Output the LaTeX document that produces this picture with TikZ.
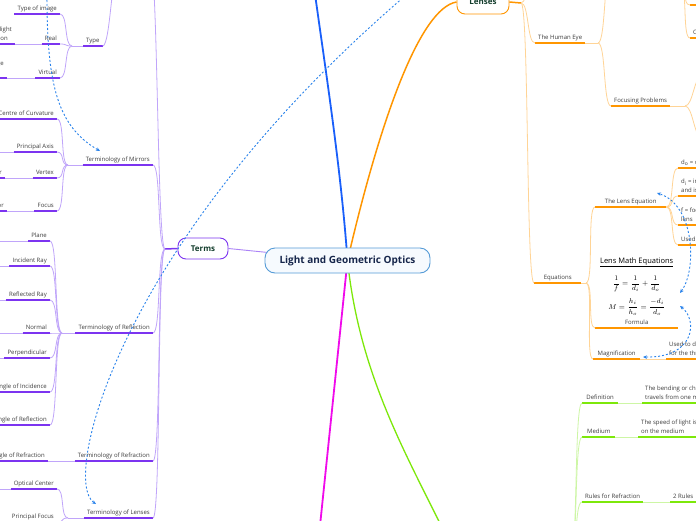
\documentclass[tikz,border=0pt]{standalone}
\usepackage{amsmath}
\usepackage[no-math]{fontspec}
\setmainfont{Open Sans}
\usepackage{xcolor}
\usetikzlibrary{positioning,arrows.meta,backgrounds}
\definecolor{pDark}{RGB}{124,52,240}
\definecolor{pLight}{RGB}{192,165,250}
\definecolor{oDark}{RGB}{255,150,0}
\definecolor{oLight}{RGB}{255,212,150}
\definecolor{gDark}{RGB}{125,232,10}
\definecolor{gLight}{RGB}{205,246,165}
\definecolor{bMain}{RGB}{25,95,250}
\definecolor{mMain}{RGB}{240,10,235}
\definecolor{rLine}{RGB}{40,130,235}
\definecolor{cLine}{RGB}{85,155,215}
\definecolor{cFill}{RGB}{246,250,254}
\definecolor{cText}{RGB}{22,38,75}
\definecolor{hText}{RGB}{20,62,45}
\definecolor{tText}{RGB}{60,60,60}
\tikzset{
  lbl/.style={font=\fontsize{6}{8.5}\selectfont, text=tText, align=left,
              inner xsep=3pt, inner ysep=2pt, text depth=1.5pt},
  pline/.style={draw=pDark, line width=1.5pt},
  oline/.style={draw=oDark, line width=1.5pt},
  gline/.style={draw=gDark, line width=1.5pt},
  pnode/.style={lbl, append after command={(\tikzlastnode.south west) edge[pline] (\tikzlastnode.south east)}},
  onode/.style={lbl, append after command={(\tikzlastnode.south west) edge[oline] (\tikzlastnode.south east)}},
  gnode/.style={lbl, append after command={(\tikzlastnode.south west) edge[gline] (\tikzlastnode.south east)}},
  plink/.style={draw=pLight, line width=0.8pt},
  olink/.style={draw=oLight, line width=0.8pt},
  glink/.style={draw=gLight, line width=0.8pt},
  sbend/.style={out=0, in=180, distance=8pt},
  rel/.style={draw=rLine, line width=0.9pt, dash pattern=on 2pt off 2pt,
              -{Stealth[length=4pt,width=3.5pt]}},
  relboth/.style={rel, {Stealth[length=4pt,width=3.5pt]}-{Stealth[length=4pt,width=3.5pt]}},
  hub/.style={rectangle, rounded corners=8pt, fill=white, line width=0.9pt,
              font=\fontsize{8}{10}\selectfont\bfseries, text=hText, minimum height=21pt},
  rootbox/.style={rectangle, rounded corners=10pt, draw=cLine, fill=cFill, line width=0.9pt,
                  font=\fontsize{10}{12}\selectfont\bfseries, text=cText,
                  minimum width=165pt, minimum height=25pt},
  eqbox/.style={align=center, inner sep=1pt, font=\fontsize{7.5}{9}\selectfont, text=black},
}

\begin{document}
\begin{tikzpicture}[x=1pt, y=-1pt]
  \useasboundingbox (0,0) rectangle (696,520);

  % --- central topic and hubs ---
  \node[rootbox] (optics) at (347.5,260.5) {Light and Geometric Optics};
  \node[hub, draw=pDark, minimum width=50pt] (terms) at (203,248.5) {Terms};
  \node[hub, draw=oDark, minimum width=52pt, minimum height=24pt] (lenses) at (483,2) {Lenses};
  \coordinate (blueEnd) at (313,-20);
  \coordinate (magEnd) at (318,545);
  \coordinate (refrN) at (452,548);

  \begin{scope}[on background layer]
    \fill[white] (0,0) rectangle (696,520);
    \draw[bMain, line width=1.8pt] (optics.center) .. controls (341,170) and (327,80) .. (blueEnd);
    \draw[oDark, line width=1.5pt] (optics.center) .. controls (380,120) and (420,8) .. (lenses.west);
    \draw[mMain, line width=1.8pt] (optics.center) -- (magEnd);
    \draw[gDark, line width=1.3pt] (optics.center) .. controls (360,380) and (410,460) .. (refrN);
    \draw[pLight!70!pDark, line width=0.9pt] (optics.center) -- (terms.east);
  \end{scope}

  % --- Terms branch ---
  \coordinate (termsJ) at (165,249);
  \coordinate (termsTop) at (150,-40);
  \node[pnode, anchor=south east] (mirrors) at (153,165) {Terminology of Mirrors};
  \node[pnode, anchor=south east] (reflect) at (153,333) {Terminology of Reflection};
  \node[pnode, anchor=south east] (refract) at (153,461) {Terminology of Refraction};
  \node[pnode, anchor=south east] (lensterm) at (153,518) {Terminology of Lenses};
  \draw[pline] (termsJ) -- (terms.west);
  \draw[plink] (termsTop) to[sbend] (termsJ);
  \foreach \n in {mirrors,reflect,refract,lensterm}
    \draw[plink] (\n.south east) to[sbend] (termsJ);

  % type of image
  \coordinate (typeUp) at (120,-40);
  \coordinate (typeJ) at (72,46);
  \node[pnode, anchor=south west] (type) at (83,46) {Type};
  \node[pnode, anchor=south east] (imgtype) at (60,14) {Type of image};
  \node[pnode, anchor=south east] (real) at (60,44) {Real};
  \node[pnode, anchor=south east] (virtual) at (60,78) {Virtual};
  \node[pnode, anchor=south east] (realdef) at (15,44) {Formed by converging light\\rays at the image location};
  \node[pnode, anchor=south east] (virtdef) at (7,78) {Rays only appear to meet at the image\\behind the mirror};
  \foreach \n in {imgtype,real,virtual}
    \draw[plink] (\n.south east) to[sbend] (typeJ);
  \draw[plink] (typeJ) -- (type.south west);
  \draw[plink] (type.south east) to[sbend] (typeUp);
  \draw[plink] (realdef.south east) -- (real.south west);
  \draw[plink] (virtdef.south east) -- (virtual.south west);

  % mirrors
  \coordinate (mirrorsJ) at (68,165);
  \node[pnode, anchor=south east] (curv) at (57,119) {Centre of Curvature};
  \node[pnode, anchor=south east] (paxis) at (57,152) {Principal Axis};
  \node[pnode, anchor=south east] (vertex) at (57,178) {Vertex};
  \node[pnode, anchor=south east] (focus) at (57,211) {Focus};
  \node[pnode, anchor=south east] (vertexdef) at (5,178) {The centre point of the mirror};
  \node[pnode, anchor=south east] (focusdef) at (7,211) {Where reflected rays meet for a mirror};
  \foreach \n in {curv,paxis,vertex,focus}
    \draw[plink] (\n.south east) to[sbend] (mirrorsJ);
  \draw[plink] (mirrorsJ) -- (mirrors.south west);
  \draw[plink] (vertexdef.south east) -- (vertex.south west);
  \draw[plink] (focusdef.south east) -- (focus.south west);

  % reflection
  \coordinate (reflJ) at (62,333);
  \node[pnode, anchor=south east] (plane) at (50,241) {Plane};
  \node[pnode, anchor=south east] (incident) at (50,266) {Incident Ray};
  \node[pnode, anchor=south east] (reflected) at (50,300) {Reflected Ray};
  \node[pnode, anchor=south east] (normal) at (50,333) {Normal};
  \node[pnode, anchor=south east] (perp) at (50,358) {Perpendicular};
  \node[pnode, anchor=south east] (anginc) at (50,392) {Angle of Incidence};
  \node[pnode, anchor=south east] (angrefl) at (50,425) {Angle of Reflection};
  \foreach \n in {plane,incident,reflected,normal,perp,anginc,angrefl}
    \draw[plink] (\n.south east) to[sbend] (reflJ);
  \draw[plink] (reflJ) -- (reflect.south west);

  % refraction and lenses
  \node[pnode, anchor=south east] (angrefr) at (48,461) {Angle of Refraction};
  \draw[plink] (angrefr.south east) -- (refract.south west);
  \coordinate (lenstermJ) at (68,518);
  \node[pnode, anchor=south east] (optcentre) at (57,489) {Optical Center};
  \node[pnode, anchor=south east] (pfocus) at (57,522) {Principal Focus};
  \foreach \n in {optcentre,pfocus}
    \draw[plink] (\n.south east) to[sbend] (lenstermJ);
  \draw[plink] (lenstermJ) -- (lensterm.south west);

  % definitions running off the left edge
  \foreach \n in {paxis,plane,incident,reflected,normal,perp,optcentre} {
    \coordinate (\n-def) at ([xshift=-40pt]\n.south west);
    \draw[plink] (\n-def) -- (\n.south west);
  }

  % --- Lenses branch ---
  \coordinate (lensJ) at (521,3);
  \coordinate (lensTop) at (535,-40);
  \draw[oline] (lenses.east) -- (lensJ);
  \node[onode, anchor=south west] (eye) at (535,43) {The Human Eye};
  \node[onode, anchor=south west, minimum width=47pt] (equations) at (534,283) {Equations};
  \draw[olink] (lensJ) to[sbend] (lensTop);
  \foreach \n in {eye,equations}
    \draw[olink] (lensJ) to[sbend] (\n.south west);

  % human eye
  \coordinate (eyeJ) at (598,43);
  \coordinate (eyeTop) at (612,-40);
  \draw[olink] (eye.south east) -- (eyeJ);
  \node[onode, anchor=south west] (focprob) at (611,106) {Focusing Problems};
  \draw[olink] (eyeJ) to[sbend] (eyeTop);
  \draw[olink] (eyeJ) to[sbend] (focprob.south west);
  \coordinate (focJ) at (685,106);
  \coordinate (focA) at (702,76);
  \coordinate (focB) at (702,138);
  \draw[olink] (focprob.south east) -- (focJ);
  \draw[olink] (focJ) to[sbend] (focA);
  \draw[olink] (focJ) to[sbend] (focB);
  \coordinate (partsJ) at (680,-14);
  \node[onode, anchor=south west, minimum width=20pt] (partA) at (690,5) {};
  \node[onode, anchor=south west] (partB) at (690,38) {Optic Nerve};
  \draw[olink] (partsJ) to[sbend] (partA.south west);
  \draw[olink] (partsJ) to[sbend] (partB.south west);

  % equations
  \coordinate (equaJ) at (586,283);
  \draw[olink] (equations.south east) -- (equaJ);
  \node[onode, anchor=south west, minimum width=71pt] (lenseq) at (595,207) {The Lens Equation};
  \node[onode, anchor=south west, minimum width=83pt] (formula) at (595,328) {Formula};
  \node[onode, anchor=south west, minimum width=47pt] (magnif) at (593,359) {Magnification};
  \node[eqbox, above=1pt of formula] (lensmath) {%
    \underline{Lens Math Equations}\\[8pt]
    $\displaystyle\frac{1}{f}=\frac{1}{d_i}+\frac{1}{d_o}$\\[6pt]
    $\displaystyle M=\frac{h_i}{h_o}=\frac{-d_i}{d_o}$};
  \node[onode, anchor=south west, minimum width=40pt] (magnuse) at (666,359) {Used to determine the image size\\for the three cases};
  \foreach \n in {lenseq,formula,magnif}
    \draw[olink] (equaJ) to[sbend] (\n.south west);
  \draw[olink] (magnif.south east) -- (magnuse.south west);

  % lens equation terms
  \node[onode, anchor=south west] (ldo) at (678,168) {d\textsubscript{o} = object distance};
  \node[onode, anchor=south west] (ldi) at (678,196) {d\textsubscript{i} = image distance\\and is negative if virtual};
  \node[onode, anchor=south west] (lf) at (678,225) {f = focal length of the\\lens};
  \node[onode, anchor=south west] (luse) at (678,245) {Used to find image position};
  \foreach \n in {ldo,ldi,lf,luse}
    \draw[olink] (lenseq.south east) to[sbend] (\n.south west);

  % --- Refraction branch (green) ---
  \coordinate (refrJ) at (570,562);
  \node[gnode, anchor=south west, minimum width=36pt] (defn) at (582,403) {Definition};
  \node[gnode, anchor=south west] (defntext) at (642,403) {The bending or change in direction of light as it\\travels from one medium to another};
  \node[gnode, anchor=south west, minimum width=33pt] (medium) at (582,437) {Medium};
  \node[gnode, anchor=south west] (mediumtext) at (638,437) {The speed of light is different depending\\on the medium};
  \node[gnode, anchor=south west] (rules) at (582,502) {Rules for Refraction};
  \node[gnode, anchor=south west] (rulestext) at (670,502) {2 Rules};
  \foreach \n in {defn,medium,rules}
    \draw[glink] (refrJ) to[sbend] (\n.south west);
  \draw[glink] (defn.south east) -- (defntext.south west);
  \draw[glink] (medium.south east) -- (mediumtext.south west);
  \draw[glink] (rules.south east) -- (rulestext.south west);

  % --- relationships (dashed) ---
  \coordinate (relAfrom) at (430,-25);
  \coordinate (relAto) at (96,504);
  \draw[rel] (relAfrom) .. controls (120,230) and (60,480) .. (relAto);
  \coordinate (relBfrom) at (47,-20);
  \coordinate (relBto) at (100,151);
  \draw[rel] (relBfrom) .. controls (46,80) and (55,125) .. (relBto);
  \coordinate (relCa) at (680,293);
  \coordinate (relCb) at (657,193);
  \draw[relboth] (relCa) .. controls (697,270) and (695,205) .. (relCb);
  \coordinate (relDa) at (680,306);
  \coordinate (relDb) at (643,357);
  \draw[relboth] (relDa) .. controls (698,320) and (695,358) .. (relDb);
\end{tikzpicture}
\end{document}
